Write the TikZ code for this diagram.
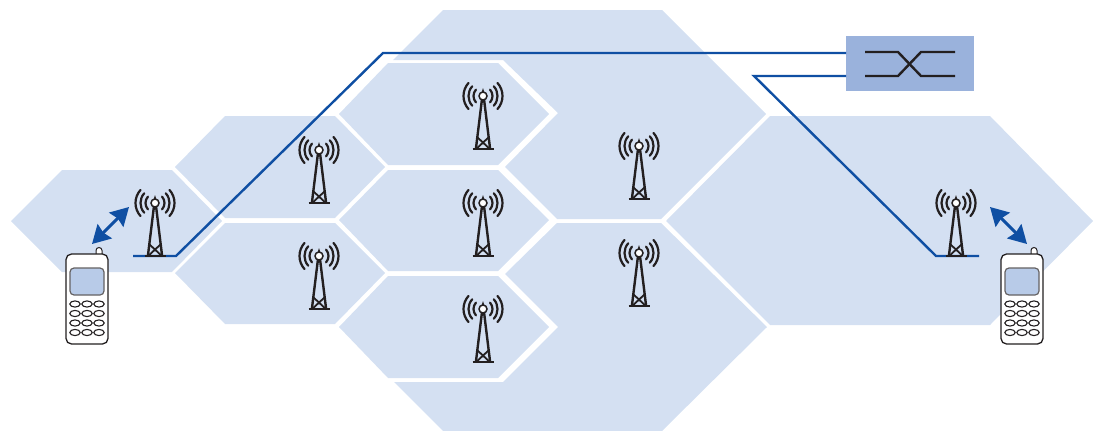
\documentclass[tikz,border=0pt]{standalone}
\usetikzlibrary{arrows.meta}
\definecolor{cell}{HTML}{D4E0F2}
\definecolor{linkblue}{HTML}{0F4FA3}
\definecolor{swbox}{HTML}{9AB2DC}
\definecolor{screenc}{HTML}{B8CBE8}
\definecolor{ink}{HTML}{231F20}
\tikzset{
 cellfill/.style={fill=cell,draw=none},
 link/.style={draw=linkblue,line width=2.4pt,line join=miter},
 duplex/.style={draw=linkblue,line width=3pt,{Stealth[length=18pt,width=20pt,inset=2pt]}-{Stealth[length=18pt,width=20pt,inset=2pt]}},
 swline/.style={draw=ink,line width=2.4pt},
 tower/.pic={
  \draw[ink,line width=2.4pt,line join=miter] (-7,52)--(-1,3) (1,3)--(7,52);
  \draw[ink,line width=1.8pt] (-6,41)--(5.8,52) (6,41)--(-5.8,52);
  \draw[ink,line width=2.8pt] (-10.5,53)--(10.5,53);
  \draw[ink,line width=2.2pt,line cap=round]
    (42:9.5) arc (42:-42:9.5) (138:9.5) arc (138:222:9.5)
    (42:14.5) arc (42:-42:14.5) (138:14.5) arc (138:222:14.5)
    (42:19.5) arc (42:-42:19.5) (138:19.5) arc (138:222:19.5);
  \fill[ink] (-1.6,-3) -- (0,-8) -- (1.6,-3) -- cycle;
  \draw[ink,fill=white,line width=1.5pt] (0,0) circle (4);
 },
 phone/.pic={
  \draw[ink,fill=white,line width=1pt,rounded corners=3] (30,-6.5) rectangle (36,3);
  \draw[ink,fill=white,line width=1.3pt,rounded corners=5.5] (0,0) rectangle (42,90);
  \draw[ink!70,fill=screenc,line width=1.2pt,rounded corners=4] (4,14) rectangle (38,41);
  \foreach \py in {50,59.5,69,78.5}{
   \foreach \px in {9,21,33}{
    \draw[ink,fill=white,line width=1.1pt] (\px,\py) ellipse (5.2 and 3.1);
   }
  }
 }
}
\begin{document}
\begin{tikzpicture}[x=1pt,y=-1pt]
\useasboundingbox (0,0) rectangle (1101,431);
% cells
\fill[cellfill] (11,221)--(62,170)--(172,170)--(222,221)--(172,272)--(62,272)--cycle;
\fill[cellfill] (225,116)--(335,116)--(385,167)--(335,218)--(225,218)--(175,167)--cycle;
\fill[cellfill] (225,223)--(335,223)--(385,273)--(335,324)--(225,324)--(175,273)--cycle;
\fill[cellfill] (388,63)--(498,63)--(549,114)--(498,165)--(388,165)--(339,114)--cycle;
\fill[cellfill] (388,170)--(498,170)--(549,220)--(498,271)--(388,271)--(339,220)--cycle;
\fill[cellfill] (388,276)--(498,276)--(549,327)--(498,378)--(388,378)--(339,327)--cycle;
\fill[cellfill] (443,10)--(662,10)--(766,114)--(661,219)--(557,219)--(505,167)--(558,113)--(503,60)--(393,60)--cycle;
\fill[cellfill] (557,223)--(661,223)--(767,327)--(662,431)--(443,431)--(394,382)--(503,382)--(558,327)--(505,274)--cycle;
\fill[cellfill] (770,116)--(990,116)--(1093,221)--(990,325)--(770,325)--(666,221)--cycle;
% switch
\node[fill=swbox,draw=none,minimum width=128pt,minimum height=55pt,inner sep=0pt,anchor=north west] (switch) at (846,36) {};
\coordinate (a1) at (133,256);
\coordinate (a2) at (176,256);
\coordinate (a3) at (383,53);
\coordinate (a4) at (846,53);
\coordinate (b1) at (846,76);
\coordinate (b2) at (754,76);
\coordinate (b3) at (936,256);
\coordinate (b4) at (979,256);
\draw[link] (a1)--(a2)--(a3)--(a4);
\draw[link] (b1)--(b2)--(b3)--(b4);
\coordinate (s1) at (865,52); \coordinate (s2) at (898,52); \coordinate (s3) at (921,76); \coordinate (s4) at (955,76);
\coordinate (s5) at (865,76); \coordinate (s6) at (898,76); \coordinate (s7) at (921,52); \coordinate (s8) at (955,52);
\draw[swline] (s1)--(s2)--(s3)--(s4);
\draw[swline] (s5)--(s6)--(s7)--(s8);
% towers
\foreach \tx/\ty in {155/203,319/150,319/256,483/96,483/203,483/309,639/146,639/253,956/203}{
  \pic at (\tx,\ty) {tower};
}
% phones
\pic at (66,254) {phone};
\pic at (1001,254) {phone};
% radio links
\coordinate (la) at (92,244); \coordinate (lb) at (129,207);
\coordinate (ra) at (990,207); \coordinate (rb) at (1027,244);
\draw[duplex] (la)--(lb);
\draw[duplex] (ra)--(rb);
\end{tikzpicture}
\end{document}
